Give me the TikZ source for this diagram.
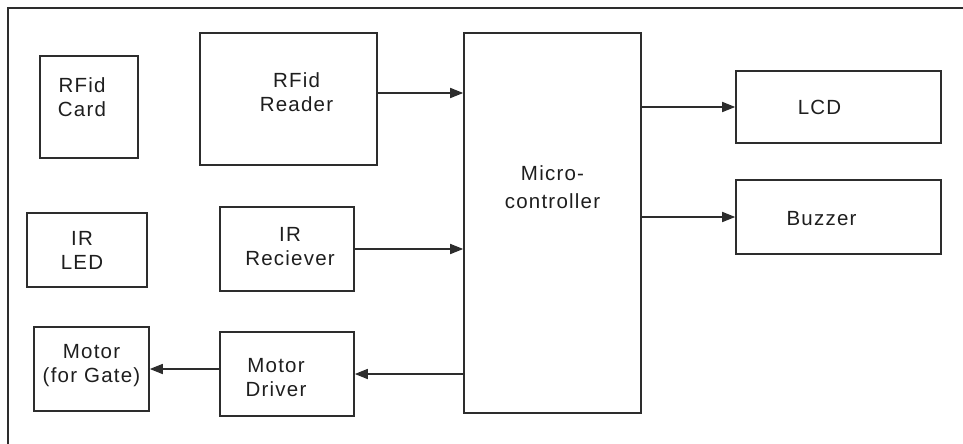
\documentclass[tikz,border=0pt]{standalone}
\usepackage{fontspec}
\setmainfont{Liberation Sans}[LetterSpace=6]
\usepackage{tikz}
\usetikzlibrary{arrows.meta, calc}
\definecolor{boxgray}{RGB}{45,45,45}
\definecolor{txtgray}{RGB}{30,30,30}
\tikzset{
  blk/.style={rectangle, draw=boxgray, line width=1.6pt, inner sep=0pt},
  lbl/.style={align=center, text=txtgray, font=\fontsize{20.5}{24}\selectfont},
  arrow/.style={-{Triangle[length=13pt,width=10pt]}, line width=1.6pt, color=boxgray},
  frame/.style={line width=2pt, color=boxgray}
}
\begin{document}
\begin{tikzpicture}[x=1pt, y=-1pt]
  \useasboundingbox (0,0) rectangle (963,444);
  \draw[frame] (963,8) -- (8,8) -- (8,444);

  % left column
  \node[blk, minimum width=98pt, minimum height=102pt,
    label={[lbl, xshift=-7pt, yshift=10pt]center:RFid\\Card}] (card) at (89,107) {};
  \node[blk, minimum width=120pt, minimum height=74pt,
    label={[lbl, xshift=-5pt]center:IR\\LED}] (irled) at (87,250) {};
  \node[blk, minimum width=115pt, minimum height=84pt,
    label={[lbl, yshift=3pt]center:Motor\\(for Gate)}] (motor) at (91.5,369) {};

  % middle column
  \node[blk, minimum width=177pt, minimum height=132pt,
    label={[lbl, xshift=8pt, yshift=7pt]center:RFid\\Reader}] (reader) at (288.5,99) {};
  \node[blk, minimum width=134pt, minimum height=84pt,
    label={[lbl, xshift=3pt, yshift=2pt]center:IR\\Reciever}] (rx) at (287,249) {};
  \node[blk, minimum width=134pt, minimum height=84pt,
    label={[lbl, xshift=-11pt, yshift=-4pt]center:Motor\\Driver}] (drv) at (287,374) {};

  \node[blk, minimum width=177pt, minimum height=380pt,
    label={[lbl, font=\fontsize{20.5}{28}\selectfont, yshift=36pt]center:Micro-\\controller}] (mcu) at (552.5,223) {};

  % right column
  \node[blk, minimum width=205pt, minimum height=72pt,
    label={[lbl, xshift=-19pt]center:LCD}] (lcd) at (838.5,107) {};
  \node[blk, minimum width=205pt, minimum height=74pt,
    label={[lbl, xshift=-17pt, yshift=-2pt]center:Buzzer}] (buzzer) at (838.5,217) {};

  % Paths
  \draw[arrow] ([yshift=6pt]reader.east) -- ([yshift=6pt]reader.east -| mcu.west);
  \draw[arrow] (rx.east) -- (rx.east -| mcu.west);
  \draw[arrow] (lcd.west -| mcu.east) -- (lcd.west);
  \draw[arrow] (buzzer.west -| mcu.east) -- (buzzer.west);
  \draw[arrow] (drv.east -| mcu.west) -- (drv.east);
  \draw[arrow] (motor.east -| drv.west) -- (motor.east);
\end{tikzpicture}
\end{document}
